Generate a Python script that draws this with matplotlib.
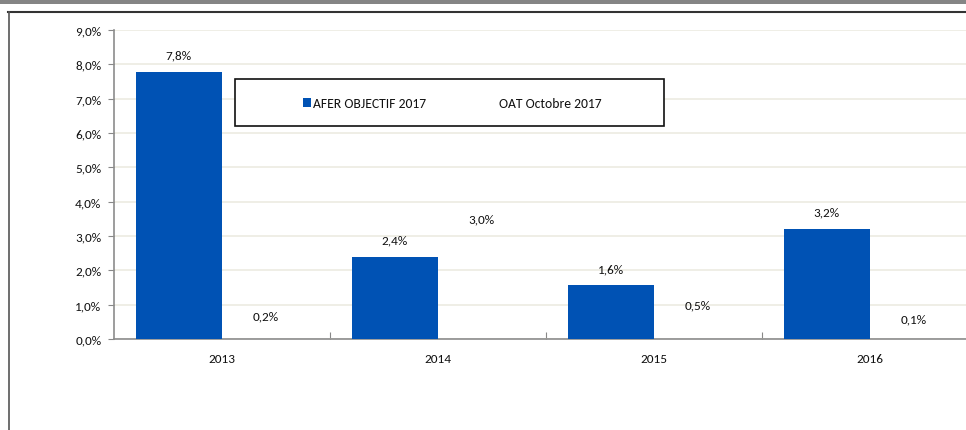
import numpy as np
import matplotlib
matplotlib.use('Agg')
import matplotlib.pyplot as plt
from matplotlib.lines import Line2D
from matplotlib.patches import Rectangle

plt.rcParams['font.family'] = ['Carlito', 'Open Sans Condensed', 'DejaVu Sans']

years = ['2013', '2014', '2015', '2016']
afer = [7.78, 2.39, 1.56, 3.21]
oat = [0.2, 3.0, 0.5, 0.1]
yticks = [0, 1, 2, 3, 4, 5, 6, 7, 8, 9]

BLUE = '#0052B4'
TXT = '#111111'
W, H = 966, 431

fig = plt.figure(figsize=(W/100, H/100), dpi=100)

# outer decoration: gray band on top and chart frame
fig.patches.append(Rectangle((0, 1-5/H), 1, 5/H, transform=fig.transFigure,
                             color='#858585', lw=0))
fig.lines.append(Line2D([8/W, 1], [1-12.5/H, 1-12.5/H], transform=fig.transFigure,
                        color='#333333', lw=1.5))
fig.lines.append(Line2D([8.5/W, 8.5/W], [0, 1-12.5/H], transform=fig.transFigure,
                        color='#555555', lw=1.2))

ax = fig.add_axes([114/W, 91/H, 864/W, 309/H])
x = np.arange(len(years))
bw = 0.4
b1 = ax.bar(x - bw/2, afer, bw, color=BLUE, label='AFER OBJECTIF 2017', zorder=3)
b2 = ax.bar(x + bw/2, oat, bw, fill=False, lw=0, label='OAT Octobre 2017', zorder=3)

# value labels above each bar
for xs, vals in [(x - bw/2, afer), (x + bw/2, oat)]:
    for xi, v in zip(xs, vals):
        ax.annotate(('%.1f%%' % v).replace('.', ','), (xi, v), xytext=(0, 12),
                    textcoords='offset points', ha='center', va='center',
                    fontsize=9.5, color=TXT)

ax.set_xlim(-0.5, 3.5)
ax.set_ylim(0, 9)
ax.set_yticks(yticks)
ax.set_yticklabels([('%.1f%%' % t).replace('.', ',') for t in yticks])
ax.set_xticks([0.5, 1.5, 2.5])
ax.set_xticklabels([])
ax.set_xticks(x, minor=True)
ax.set_xticklabels(years, minor=True)
ax.tick_params(axis='x', which='major', direction='in', length=5, color='#888888')
ax.tick_params(axis='x', which='minor', length=0, pad=10, labelsize=9.5, labelcolor=TXT)
ax.tick_params(axis='y', direction='out', length=4, pad=5, color='#888888',
               labelsize=9.5, labelcolor=TXT)
ax.yaxis.grid(True, color='#ECEBE1', lw=1.2, zorder=0)
ax.set_axisbelow(True)
for s in ['top', 'right']:
    ax.spines[s].set_visible(False)
for s in ['left', 'bottom']:
    ax.spines[s].set_color('#8C8C8C')
    ax.spines[s].set_linewidth(1.2)

# legend box
fig.patches.append(Rectangle((235/W, 1-127/H), 429/W, 47/H, transform=fig.transFigure,
                             fill=True, facecolor='white', edgecolor='#111111', lw=1.2, zorder=5))
leg = fig.legend(handles=[b1, b2], loc='center', bbox_to_anchor=(452/W, 1-104/H),
                 ncol=2, frameon=False, fontsize=9.8, handlelength=0.6, handleheight=0.6,
                 handletextpad=0.15, columnspacing=4.6, labelcolor=TXT)
leg.set_zorder(6)

fig.savefig('out.png', dpi=100)
